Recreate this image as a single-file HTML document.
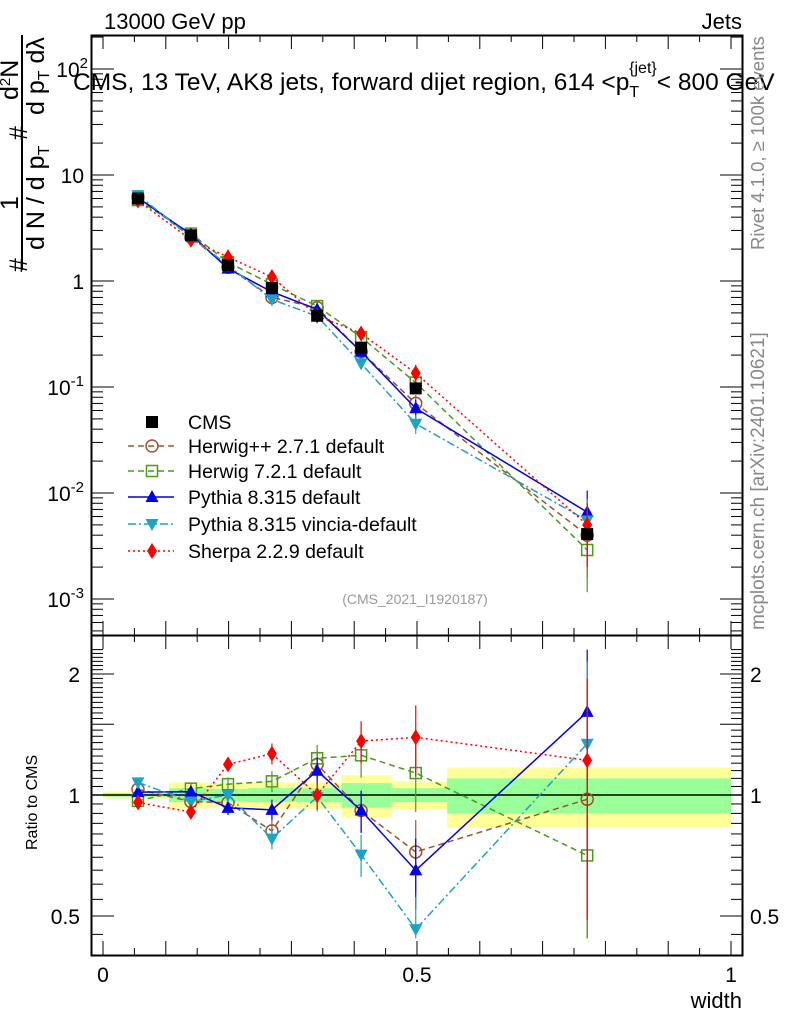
<!DOCTYPE html>
<html><head><meta charset="utf-8"><style>
body{margin:0;background:#fff;}
svg text{font-family:"Liberation Sans",sans-serif;fill:#000;}
</style></head><body>
<svg id="c" width="786" height="1024" xmlns="http://www.w3.org/2000/svg">
<g id="bands"></g>
<g id="grid"></g>
<g id="series"></g>
<g id="legend"></g>
<rect x="91.5" y="35.5" width="651" height="600" fill="none" stroke="#000" stroke-width="2"/>
<rect x="91.5" y="635.5" width="651" height="320" fill="none" stroke="#000" stroke-width="2"/>
<text x="104" y="29" font-size="22">13000 GeV pp</text>
<text x="742" y="29" font-size="22" text-anchor="end">Jets</text>
<text x="73" y="90" font-size="24.5">CMS, 13 TeV, AK8 jets, forward dijet region, 614 &lt;p<tspan font-size="16" dy="7">T</tspan><tspan font-size="16" dy="-24" dx="-10">{jet}</tspan><tspan dy="17">&lt; 800 GeV</tspan></text>
<text transform="translate(764,250) rotate(-90)" font-size="18.5" style="fill:#888">Rivet 4.1.0, ≥ 100k events</text>
<text transform="translate(764,630) rotate(-90)" font-size="19" style="fill:#888">mcplots.cern.ch [arXiv:2401.10621]</text>
<text x="415" y="604" font-size="14" text-anchor="middle" style="fill:#999">(CMS_2021_I1920187)</text>
<g font-size="25">
<line x1="22" y1="35" x2="22" y2="270" stroke="#000" stroke-width="2"/>
<text transform="translate(27,272) rotate(-90)">#</text>
<text transform="translate(18,210) rotate(-90)">1</text>
<text transform="translate(44,250) rotate(-90)">d N / d p<tspan font-size="16" dy="5">T</tspan></text>
<text transform="translate(27,140) rotate(-90)">#</text>
<text transform="translate(18,100) rotate(-90)">d<tspan font-size="15" dy="-8">2</tspan><tspan dy="8">N</tspan></text>
<text transform="translate(44,115) rotate(-90)">d p<tspan font-size="16" dy="5">T</tspan><tspan dy="-5"> dλ</tspan></text>
</g>
<text transform="translate(37,850) rotate(-90)" font-size="16">Ratio to CMS</text>
<text x="742" y="1008" font-size="22" text-anchor="end">width</text>
</svg>
<script>
const xVals=[0.0557,0.140,0.199,0.269,0.341,0.411,0.498,0.771];
const cms=[6.0,2.7,1.41,0.86,0.47,0.235,0.097,0.0041];
const cmsRelErr=[0.02,0.03,0.03,0.03,0.06,0.04,0.07,0.12];
const herwigPP=[6.2,2.6,1.35,0.70,0.56,0.215,0.070,0.0040];
const herwig7=[5.8,2.8,1.5,0.93,0.58,0.295,0.110,0.0029];
const pythia=[6.1,2.75,1.31,0.79,0.54,0.215,0.063,0.0066];
const vincia=[6.45,2.6,1.41,0.67,0.465,0.167,0.045,0.0055];
const sherpa=[5.75,2.45,1.68,1.09,0.47,0.32,0.135,0.0050];
const modelRelErr=[0.02,0.03,0.04,0.06,0.08,0.12,0.2,0.6];
const bandEdges=[0,0.105,0.165,0.23,0.38,0.46,0.548,1.0];
const bandYellow=[0.02,0.075,0.07,0.075,0.12,0.08,0.17];
const bandGreen=[0.01,0.04,0.035,0.04,0.07,0.04,0.1];
const xTicks=[0,0.5,1];
const yTicksMain=[2,1,0,-1,-2,-3];
const ratioTicks=[0.5,1,2];

const NS="http://www.w3.org/2000/svg";
const X=v=>103+628*v;
const Y=v=>281-106*Math.log10(v);
const R=v=>795-121*Math.log2(v);
function mk(t,a,p){const e=document.createElementNS(NS,t);for(const k in a)e.setAttribute(k,a[k]);p.appendChild(e);return e;}
const grid=document.getElementById('grid'),ser=document.getElementById('series'),bands=document.getElementById('bands'),leg=document.getElementById('legend');

for(let i=0;i<bandYellow.length;i++){
 const x0=X(bandEdges[i]),x1=X(bandEdges[i+1]);
 const y=mk('rect',{x:x0,y:R(1+bandYellow[i]),width:x1-x0,height:R(1-bandYellow[i])-R(1+bandYellow[i]),fill:'#ffff99'},bands);
 
 
 const g=mk('rect',{x:x0,y:R(1+bandGreen[i]),width:x1-x0,height:R(1-bandGreen[i])-R(1+bandGreen[i]),fill:'#99ff99'},bands);
 
 
}
const ref=mk('line',{x1:92,x2:742,y1:R(1),y2:R(1),stroke:'#000','stroke-width':1.5},bands);



for(let v=0;v<=1.001;v+=0.05){
 const major=Math.abs(v*10-Math.round(v*10))<1e-6;
 const len=major?14:7;
 mk('line',{x1:X(v),x2:X(v),y1:35,y2:35+len,stroke:'#000'},grid);
 mk('line',{x1:X(v),x2:X(v),y1:635,y2:635+len,stroke:'#000'},grid);
 mk('line',{x1:X(v),x2:X(v),y1:955,y2:955-len,stroke:'#000'},grid);
 mk('line',{x1:X(v),x2:X(v),y1:635,y2:635-len,stroke:'#000'},grid);
}
xTicks.forEach(v=>{const t=mk('text',{x:X(v),y:982,'font-size':21,'text-anchor':'middle'},grid);t.textContent=String(v);
 
 });
for(let d=-4;d<=2;d++){for(let m=1;m<10;m++){const v=m*Math.pow(10,d);const y=Y(v);if(y<36||y>634)continue;
 const len=m==1?22:11;
 mk('line',{x1:92,x2:92+len,y1:y,y2:y,stroke:'#000'},grid);
 mk('line',{x1:742,x2:742-len,y1:y,y2:y,stroke:'#000'},grid);}}
yTicksMain.forEach(p=>{const y=Y(Math.pow(10,p));
 const t=mk('text',{x:84,y:y+8,'font-size':21,'text-anchor':'end'},grid);
 
 
 if(p==0)t.textContent='1';else if(p==1)t.textContent='10';
 else{t.textContent='10';const s=mk('tspan',{'font-size':15,dy:-9},t);s.textContent=String(p);}
 if(p>1)t.setAttribute('x',88);
});
for(let v=0.45;v<=2.31;v+=0.05){const y=R(v);if(y<636||y>954)continue;
 const major=[0.5,1,1.5,2].some(m=>Math.abs(m-v)<1e-6);const len=major?22:11;
 mk('line',{x1:92,x2:92+len,y1:y,y2:y,stroke:'#000'},grid);
 mk('line',{x1:742,x2:742-len,y1:y,y2:y,stroke:'#000'},grid);}
ratioTicks.forEach(v=>{const y=R(v)+8;
 const a=mk('text',{x:80,y:y,'font-size':21,'text-anchor':'end'},grid);a.textContent=String(v);
 
 
 const b=mk('text',{x:750,y:y,'font-size':21},grid);b.textContent=String(v);
 
 });

function marker(kind,color,x,y,p){
 if(kind=='sq')return mk('rect',{x:x-6,y:y-6,width:12,height:12,fill:'#000'},p);
 if(kind=='osq')return mk('rect',{x:x-5.5,y:y-5.5,width:11,height:11,fill:'none',stroke:color,'stroke-width':1.5},p);
 if(kind=='oc')return mk('circle',{cx:x,cy:y,r:6,fill:'none',stroke:color,'stroke-width':1.5},p);
 if(kind=='tu')return mk('polygon',{points:`${x},${y-7} ${x-6.5},${y+5} ${x+6.5},${y+5}`,fill:color},p);
 if(kind=='td')return mk('polygon',{points:`${x},${y+7} ${x-6.5},${y-5} ${x+6.5},${y-5}`,fill:color},p);
 if(kind=='dm')return mk('polygon',{points:`${x},${y-8} ${x-5},${y} ${x},${y+8} ${x+5},${y}`,fill:color},p);
}
const models=[
 {name:'herwigpp',vals:herwigPP,color:'#a0522d',kind:'oc',dash:'6,4',w:1.5,label:'Herwig++ 2.7.1 default'},
 {name:'herwig7',vals:herwig7,color:'#4c9a1a',kind:'osq',dash:'6,4',w:1.5,label:'Herwig 7.2.1 default'},
 {name:'pythia',vals:pythia,color:'#0000ee',kind:'tu',dash:'',w:1.5,label:'Pythia 8.315 default'},
 {name:'vincia',vals:vincia,color:'#19a3c6',kind:'td',dash:'8,3,2,3',w:1.5,label:'Pythia 8.315 vincia-default'},
 {name:'sherpa',vals:sherpa,color:'#ff0000',kind:'dm',dash:'2,3',w:1.5,label:'Sherpa 2.2.9 default'}];

models.forEach(m=>{
 const g=mk('g',{},ser);
 
 
 const pm=m.vals.map((v,i)=>X(xVals[i])+','+Y(v)).join(' ');
 mk('polyline',{points:pm,fill:'none',stroke:m.color,'stroke-width':m.w,'stroke-dasharray':m.dash},g);
 const rv=m.vals.map((v,i)=>v/cms[i]);
 const pr=rv.map((r,i)=>X(xVals[i])+','+R(r)).join(' ');
 mk('polyline',{points:pr,fill:'none',stroke:m.color,'stroke-width':m.w,'stroke-dasharray':m.dash},g);
 m.vals.forEach((v,i)=>{const x=X(xVals[i]);const e=modelRelErr[i];
  const lo=Math.max(v*(1-e),v*0.3);
  mk('line',{x1:x,x2:x,y1:Y(v*(1+e)),y2:Y(lo),stroke:m.color,'stroke-width':1.2},g);
  const r=rv[i];const rl=Math.max(r*(1-e),0.44);const rh=Math.min(r*(1+e),2.3);
  mk('line',{x1:x,x2:x,y1:R(rh),y2:Math.min(R(rl),955),stroke:m.color,'stroke-width':1.2},g);
  const a=marker(m.kind,m.color,x,Y(v),g);
  
  
  const b=marker(m.kind,m.color,x,R(r),g);
  
  
 });
});
cms.forEach((v,i)=>{const x=X(xVals[i]);
 mk('line',{x1:x,x2:x,y1:Y(v*(1+cmsRelErr[i])),y2:Y(v*(1-cmsRelErr[i])),stroke:'#000'},ser);
 const p=marker('sq','#000',x,Y(v),ser);
 
 });

const rows=[{label:'CMS',kind:'sq',color:'#000',dash:null}].concat(models.map(m=>({label:m.label,kind:m.kind,color:m.color,dash:m.dash})));
const ly=[422,446,471,497,524,551];
rows.forEach((r,i)=>{const g=mk('g',{},leg);
 
 
 const y=ly[i];
 if(r.dash!==null)mk('line',{x1:128,x2:174,y1:y,y2:y,stroke:r.color,'stroke-width':1.5,'stroke-dasharray':r.dash},g);
 marker(r.kind,r.color,152,y,g);
 const t=mk('text',{x:188,y:y+7,'font-size':19.5},g);t.textContent=r.label;});
</script>
</body></html>
